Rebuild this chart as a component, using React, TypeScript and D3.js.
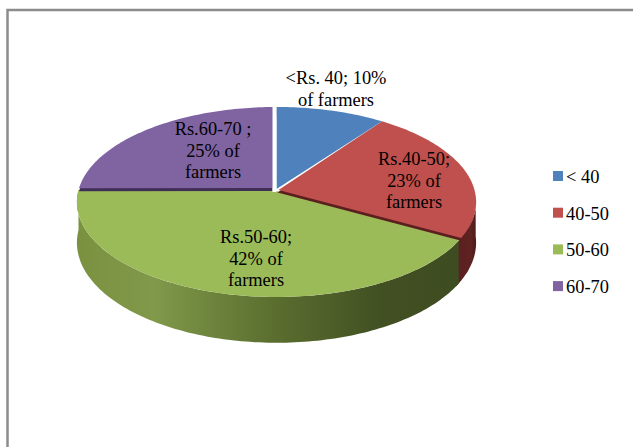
import React from "react";
import * as d3 from "d3";

// Share of farmers in each price band
const categories = ["< 40", "40-50", "50-60", "60-70"];
const shares = [10, 23, 42, 25];
const sliceColors = ["#4f81bd", "#c0504d", "#9bbb59", "#8064a2"];
const sliceLabels = [
  ["<Rs. 40; 10%", "of farmers"],
  ["Rs.40-50;", "23% of", "farmers"],
  ["Rs.50-60;", "42% of", "farmers"],
  ["Rs.60-70 ;", "25% of", "farmers"],
];

const W = 633;
const H = 447;
const FONT = "'Liberation Serif', 'Times New Roman', serif";

// Perspective disc: apex on screen, horizontal and depth radii, foreshortening, thickness
const APEX_X = 276.5;
const APEX_Y = 190;
const RX = 198;
const RY = 93.5;
const PERSP = 0.126;
const DEPTH = 40;

// Where each wedge's point sits relative to the disc's apex, in screen pixels
const apexShift = [
  [0, -1],
  [2, 0],
  [0, 1],
  [-4, -2],
];
const labelAnchors = [
  [336, 84],
  [414, 165],
  [256, 243],
  [213, 135],
];

function project(angle: number, level = 0, radius = 1): [number, number] {
  const u = radius * Math.sin(angle);
  const v = -radius * Math.cos(angle);
  const w = 1 - PERSP * v;
  return [APEX_X + (RX * u) / w, APEX_Y + (RY * v + level) / w];
}

function sampleArc(a0: number, a1: number, level = 0): [number, number][] {
  const n = Math.max(2, Math.ceil(Math.abs(a1 - a0) / 0.02));
  return d3.range(n + 1).map((i) => project(a0 + ((a1 - a0) * i) / n, level));
}

const pathOf = d3.line<[number, number]>();

function wedgePath(i: number, a0: number, a1: number): string {
  const apex: [number, number] = [APEX_X + apexShift[i][0], APEX_Y + apexShift[i][1]];
  return pathOf([apex, ...sampleArc(a0, a1)])! + "Z";
}

function wallPath(a0: number, a1: number): string {
  return pathOf([...sampleArc(a0, a1), ...sampleArc(a1, a0, DEPTH)])! + "Z";
}

export default function App() {
  const arcs = d3.pie<number>().sort(null)(shares);
  const [blue, red, green, purple] = arcs;
  // The purple slice is lifted slightly, so its lower edge starts a touch past the green rim
  const purpleStart = purple.startAngle + 0.02;

  return (
    <svg
      width={W}
      height={H}
      viewBox={`0 0 ${W} ${H}`}
      style={{ position: "absolute", left: 0, top: 0, background: "#fff" }}
    >
      <defs>
        <linearGradient id="greenWall" gradientUnits="userSpaceOnUse" x1={77} x2={460} y1={0} y2={0}>
          <stop offset="0" stopColor="#7a9140" />
          <stop offset="0.2" stopColor="#80994a" />
          <stop offset="0.5" stopColor="#5c7030" />
          <stop offset="0.8" stopColor="#414f22" />
          <stop offset="1" stopColor="#3e4c21" />
        </linearGradient>
        <linearGradient id="redWall" gradientUnits="userSpaceOnUse" x1={456} x2={477} y1={0} y2={0}>
          <stop offset="0" stopColor="#5a1f1e" />
          <stop offset="0.7" stopColor="#5e2321" />
          <stop offset="1" stopColor="#4a1a19" />
        </linearGradient>
      </defs>

      {/* Outer frame: top and left rules only */}
      <path d="M7.5,447V10H633" fill="none" stroke="#8c8c8c" strokeWidth={2.5} />

      {/* Side walls */}
      <path d={wallPath(Math.PI * 0.52, red.endAngle + 0.06)} fill="url(#redWall)" />
      <path d={wallPath(green.startAngle + 0.03, green.endAngle)} fill="url(#greenWall)" />

      {/* Top faces with the dark cut edges of the displaced slices */}
      <path d={wedgePath(2, green.startAngle + 0.02, green.endAngle)} fill={sliceColors[2]} />
      <path d={wedgePath(3, purpleStart, purple.endAngle)} fill="#3f2f57" transform="translate(0,3)" />
      <path d={wedgePath(3, purpleStart, purple.endAngle)} fill={sliceColors[3]} />
      <path d={wedgePath(1, red.startAngle, red.endAngle)} fill="#5a1f1e" transform="translate(-1,2.5)" />
      <path d={wedgePath(1, red.startAngle, red.endAngle)} fill={sliceColors[1]} />
      <path d={wedgePath(0, blue.startAngle, blue.endAngle)} fill={sliceColors[0]} />

      {/* White gap between the purple and blue slices */}
      <line x1={274.5} x2={274.5} y1={104} y2={192} stroke="#fff" strokeWidth={4} />

      {/* Slice labels */}
      <g fontFamily={FONT} fontSize={18.4} fill="#000" textAnchor="middle">
        {sliceLabels.map((lines, i) => (
          <text key={i}>
            {lines.map((line, j) => (
              <tspan key={j} x={labelAnchors[i][0]} y={labelAnchors[i][1] + j * 21.7}>
                {line}
              </tspan>
            ))}
          </text>
        ))}
      </g>

      {/* Legend */}
      <g fontFamily={FONT} fontSize={18.4} fill="#000">
        {categories.map((c, i) => {
          const y = 171 + i * 36.7;
          return (
            <g key={c}>
              <rect x={553} y={y} width={10} height={10} fill={sliceColors[i]} />
              <text x={566} y={y + 12}>
                {c}
              </text>
            </g>
          );
        })}
      </g>
    </svg>
  );
}
